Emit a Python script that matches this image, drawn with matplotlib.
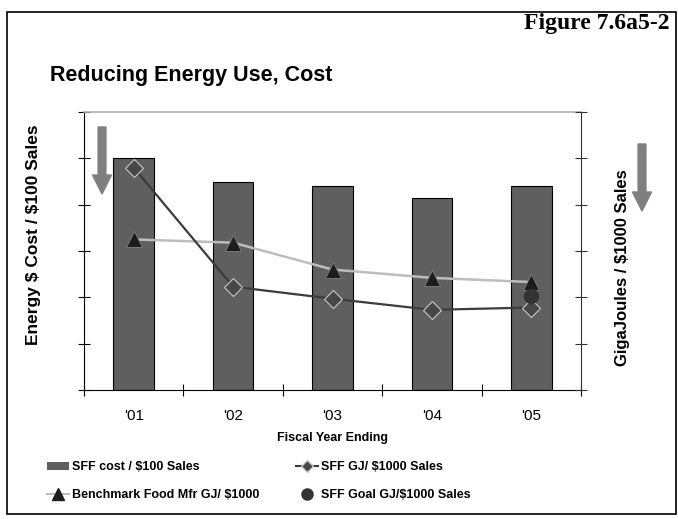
import numpy as np
import matplotlib.pyplot as plt
from matplotlib.lines import Line2D
from matplotlib.patches import Patch, Rectangle, FancyArrow

plt.rcParams['font.family'] = ['Liberation Sans', 'DejaVu Sans']

years = ["'01", "'02", "'03", "'04", "'05"]
cost_per_100 = [5.0, 4.5, 4.4, 4.15, 4.4]          # SFF cost / $100 sales
sff_gj = [4.8, 2.23, 1.97, 1.73, 1.78]              # SFF GJ / $1000 sales
bench_gj = [3.25, 3.18, 2.6, 2.42, 2.33]            # benchmark food mfr
goal_gj = [None, None, None, None, 2.03]            # SFF goal

x = np.arange(len(years))

fig = plt.figure(figsize=(6.78, 5.19), dpi=100)
ax = fig.add_axes([84/678, 1-390/519, (581-84)/678, (390-112)/519])
ax2 = ax.twinx()

ax.bar(x, cost_per_100, width=0.41, color='#5f5f5f', edgecolor='black', linewidth=0.8, zorder=2)
ax.set_xlim(-0.5, 4.5)
ax.set_ylim(0, 6)
ax2.set_ylim(0, 6)

ax2.plot(x, bench_gj, color='#bdbdbd', lw=1.8, marker='^', ms=11, mfc='#1c1c1c', mec='#808080', mew=0.6, zorder=3)
ax2.plot(x, sff_gj, color='#3c3c3c', lw=1.6, marker='D', ms=9, mfc='#474747', mec='#c8c8c8', mew=0.8, zorder=4)
gx = [i for i, v in enumerate(goal_gj) if v is not None]
gy = [v for v in goal_gj if v is not None]
ax2.plot(gx, gy, ls='none', marker='o', ms=10, color='#333333', zorder=5)

# axes styling: no numbers, ticks crossing the spines
ax.set_yticks(np.arange(0, 7))
ax.set_yticklabels([])
ax2.set_yticks(np.arange(0, 7))
ax2.set_yticklabels([])
ax.set_xticks(np.arange(-0.5, 5, 1))
ax.set_xticklabels([])
ax.set_xticks(x, minor=True)
ax.set_xticklabels(years, minor=True, fontsize=11)
ax.tick_params(axis='x', which='minor', length=0, pad=14)
ax.tick_params(axis='x', which='major', direction='inout', length=8, width=0.8)
ax.tick_params(axis='y', direction='inout', length=9, width=0.8)
ax2.tick_params(axis='y', direction='inout', length=9, width=0.8, color='#333333')

ax.spines['top'].set_color('#b0b0b0')
ax.spines['top'].set_linewidth(1.2)
ax2.spines['top'].set_visible(False)
ax2.spines['left'].set_visible(False)
ax2.spines['bottom'].set_visible(False)
ax2.spines['right'].set_color('#333333')
ax.spines['right'].set_visible(False)

ax.set_xlabel('Fiscal Year Ending', fontsize=9, fontweight='bold', labelpad=6)
fig.text(34/678, 1-235/519, r'Energy \$ Cost / \$100 Sales', rotation=90, ha='center', va='center',
         fontsize=12.5, fontweight='bold')
fig.text(623/678, 1-268/519, r'GigaJoules / \$1000 Sales', rotation=90, ha='center', va='center',
         fontsize=12, fontweight='bold')

# downward arrows meaning "lower is better"
for ax_x, y0, y1 in [(102, 127, 194), (642, 144, 211)]:
    fig.patches.append(FancyArrow(
        ax_x/678, 1-y0/519, 0, -(y1-y0)/519, width=6/519, head_width=19/678,
        head_length=19/519, length_includes_head=True, color='#7f7f7f',
        transform=fig.transFigure, figure=fig))

fig.text(50/678, 1-75/519, 'Reducing Energy Use, Cost', fontsize=15.5, fontweight='bold', va='center')
fig.text(669/678, 1-24/519, 'Figure 7.6a5-2', fontsize=17, fontweight='bold', ha='right', va='center',
         family='Liberation Serif')

fig.patches.append(Rectangle((7/678, 1-514/519), 669/678, 502/519, transform=fig.transFigure,
                             fill=False, edgecolor='black', linewidth=1.2, figure=fig))

handles = [
    Patch(facecolor='#5f5f5f', edgecolor='none'),
    Line2D([], [], color='#bdbdbd', lw=1.5, marker='^', ms=8, mfc='#1c1c1c', mec='#1c1c1c'),
    Line2D([], [], color='#3c3c3c', lw=1.5, marker='D', ms=6, mfc='#474747', mec='#c8c8c8'),
    Line2D([], [], ls='none', marker='o', ms=8, color='#333333'),
]
labels = [r'SFF cost / \$100 Sales', r'Benchmark Food Mfr GJ/ \$1000',
          r'SFF GJ/ \$1000 Sales', r'SFF Goal GJ/\$1000 Sales']
leg = fig.legend(handles, labels, loc='upper left', bbox_to_anchor=(36/678, 1-450/519), ncol=2,
                 frameon=False, prop={'weight': 'bold', 'size': 9}, handlelength=1.75,
                 columnspacing=2.9, labelspacing=1.25, handletextpad=0.25)

fig.savefig('out.png', dpi=100)
